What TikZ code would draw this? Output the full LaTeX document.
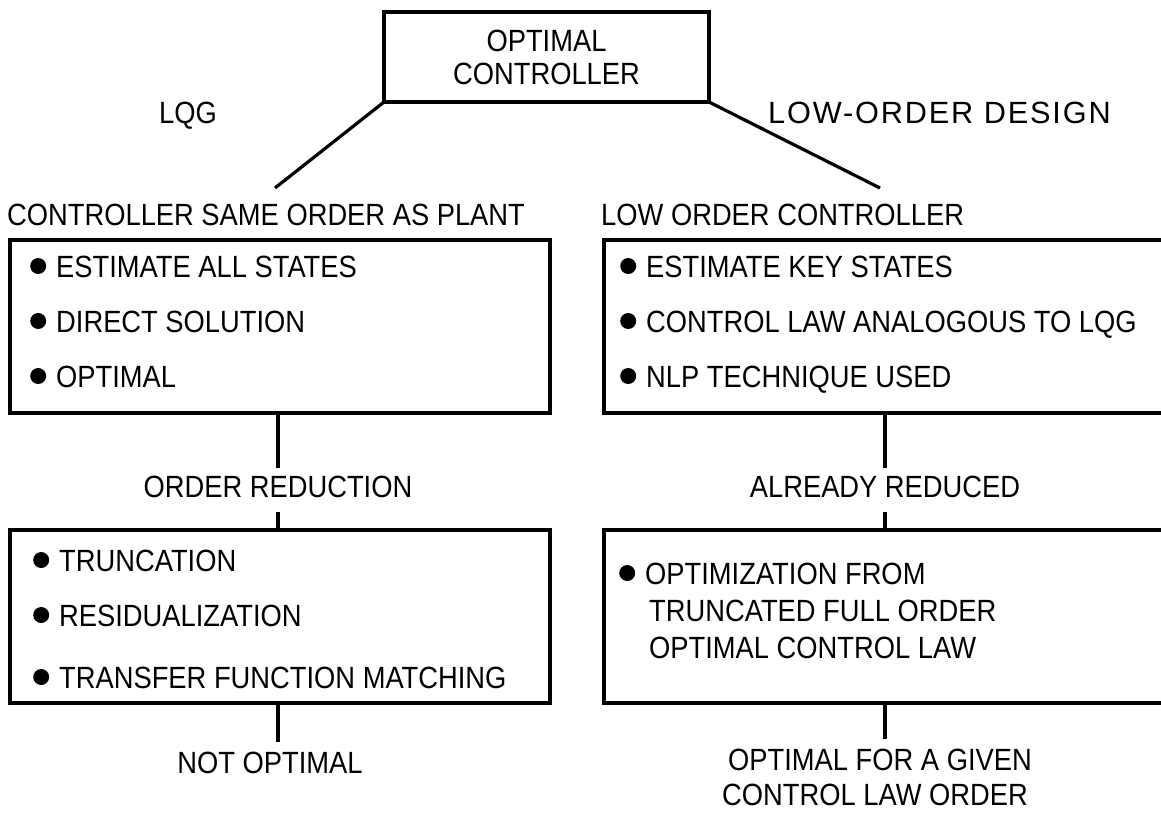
\documentclass[tikz,border=0pt]{standalone}
\usepackage{fontspec}
\setmainfont[FakeStretch=0.89]{Liberation Sans}
\newcommand{\mybul}{\tikz[baseline=-11pt]\fill (0,0) circle (8pt);\hspace{10pt}}
\begin{document}
\begin{tikzpicture}[x=1pt,y=-1pt,
  box/.style={draw, line width=3.2pt, rectangle, inner sep=0pt, outer sep=0pt},
  txt/.style={font=\fontsize{30.7pt}{36pt}\selectfont, inner sep=0pt, text height=22pt, text depth=0pt},
  conn/.style={line width=3.2pt}]
\fill[white] (0,0) rectangle (1161,812);
\useasboundingbox (0,0) rectangle (1161,812);
\clip (0,0) rectangle (1161,812);

% top box
\node[box, align=center, font=\fontsize{30.7pt}{33pt}\selectfont, minimum width=325pt, minimum height=90pt] (top) at (546.5,57) {OPTIMAL\\CONTROLLER};

\node[txt] (lqg) at (188,112) {LQG};
\node[txt, anchor=west] (lod) at (768,112) {\addfontfeature{FakeStretch=1,LetterSpace=6}LOW-ORDER DESIGN};
\coordinate (dl) at (275,188);
\coordinate (dr) at (880,188);
\draw[conn] (top.south west) -- (dl);
\draw[conn] (top.south east) -- (dr);

% headings
\node[txt, anchor=west] (h1) at (7,214) {CONTROLLER SAME ORDER AS PLANT};
\node[txt, anchor=west] (h2) at (601,214) {LOW ORDER CONTROLLER};

% boxes
\node[box, anchor=north west, minimum width=540pt, minimum height=173pt] (b1) at (10,240) {};
\node[box, anchor=north west, minimum width=700pt, minimum height=173pt] (b3) at (604,240) {};
\node[box, anchor=north west, minimum width=540pt, minimum height=173pt] (b2) at (10,530) {};
\node[box, anchor=north west, minimum width=700pt, minimum height=173pt] (b4) at (604,530) {};

% items
\node[txt, anchor=west] (a1) at (30,266) {\mybul ESTIMATE ALL STATES};
\node[txt, anchor=west] (a2) at (30,321) {\mybul DIRECT SOLUTION};
\node[txt, anchor=west] (a3) at (30,376) {\mybul OPTIMAL};
\node[txt, anchor=west] (c1) at (620,266) {\mybul ESTIMATE KEY STATES};
\node[txt, anchor=west] (c2) at (620,321) {\mybul CONTROL LAW ANALOGOUS TO LQG};
\node[txt, anchor=west] (c3) at (620,376) {\mybul NLP TECHNIQUE USED};
\node[txt, anchor=west] (t1) at (33,560) {\mybul TRUNCATION};
\node[txt, anchor=west] (t2) at (33,615) {\mybul RESIDUALIZATION};
\node[txt, anchor=west] (t3) at (33,677) {\mybul TRANSFER FUNCTION MATCHING};
\node[txt, anchor=west] (p1) at (619,573) {\mybul OPTIMIZATION FROM};
\node[txt, anchor=west] (p2) at (649,610) {TRUNCATED FULL ORDER};
\node[txt, anchor=west] (p3) at (649,647) {OPTIMAL CONTROL LAW};

% middle labels
\node[txt] (r1) at (278,486) {ORDER REDUCTION};
\node[txt] (r2) at (885,486) {ALREADY REDUCED};
\draw[conn] (b1.south -| r1) -- ([yshift=7pt]r1.north);
\draw[conn] ([yshift=-15pt]r1.south) -- (b2.north -| r1);
\draw[conn] (b3.south -| r2) -- ([yshift=7pt]r2.north);
\draw[conn] ([yshift=-15pt]r2.south) -- (b4.north -| r2);

% bottom labels
\node[txt] (o1) at (270,762) {NOT OPTIMAL};
\node[txt] (o2a) at (880,759) {OPTIMAL FOR A GIVEN};
\node[txt] (o2b) at (875,794) {CONTROL LAW ORDER};
\coordinate (e1) at (278,742);
\coordinate (e2) at (885,739);
\draw[conn] (b2.south -| e1) -- (e1);
\draw[conn] (b4.south -| e2) -- (e2);
\end{tikzpicture}
\end{document}
